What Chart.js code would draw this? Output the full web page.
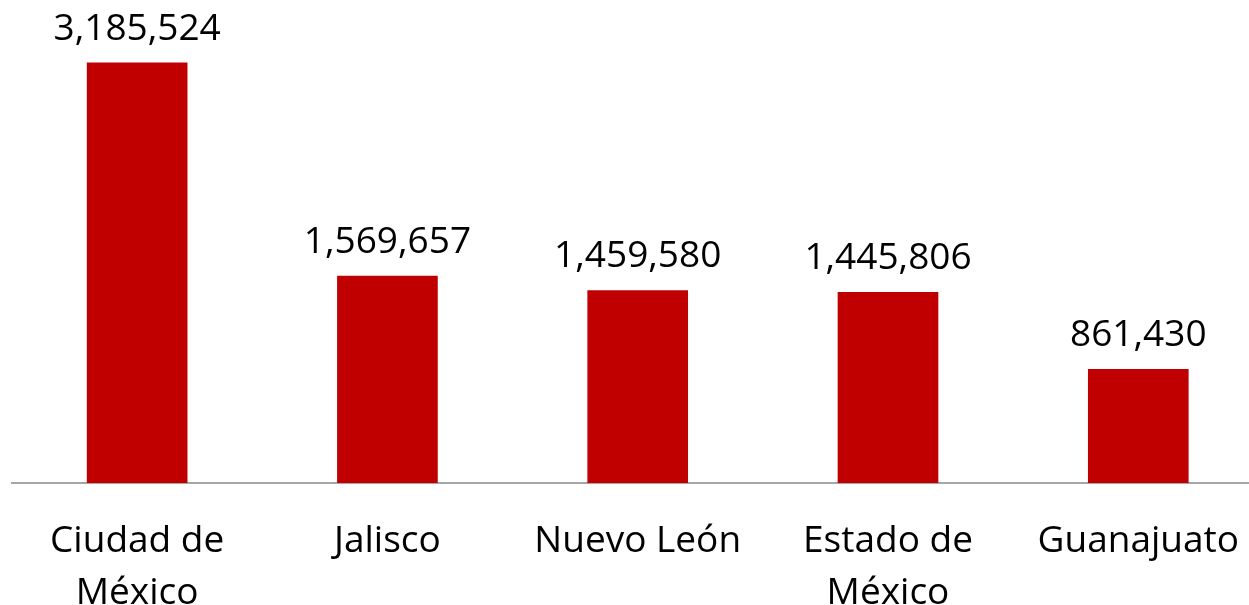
<!DOCTYPE html>
<html>
<head>
<meta charset="utf-8">
<script src="https://cdn.jsdelivr.net/npm/chart.js@4/dist/chart.umd.min.js"></script>
<style>
    html, body { margin: 0; padding: 0; background: #fff; overflow: hidden; }
    #wrap { width: 1249px; height: 605px; overflow: hidden; position: relative; }
</style>
</head>
<body>
<div id="wrap">
    <canvas id="barChart" width="1271" height="656"></canvas>
</div>
<script>
const states = [['Ciudad de', 'México'], 'Jalisco', 'Nuevo León', ['Estado de', 'México'], 'Guanajuato'];
const totals = [3185524, 1569657, 1459580, 1445806, 861430];

const FONT = '"Open Sans", "Noto Sans", sans-serif';

// value labels above each bar
const valueLabels = {
    id: 'valueLabels',
    afterDatasetsDraw(chart) {
        const ctx = chart.ctx;
        const meta = chart.getDatasetMeta(0);
        ctx.save();
        ctx.font = '37px ' + FONT;
        ctx.fillStyle = '#000';
        ctx.textAlign = 'center';
        ctx.textBaseline = 'alphabetic';
        meta.data.forEach((bar, i) => {
            ctx.fillText(totals[i].toLocaleString('en-US'), bar.x, bar.y - 23);
        });
        ctx.restore();
    }
};

document.addEventListener('DOMContentLoaded', function() {
    const ctx = document.getElementById('barChart').getContext('2d');
    new Chart(ctx, {
        type: 'bar',
        data: {
            labels: states,
            datasets: [{
                data: totals,
                backgroundColor: '#C00000',
                borderWidth: 0,
                barThickness: 100
            }]
        },
        options: {
            responsive: false,
            animation: false,
            layout: {
                padding: { left: 12, right: 0, top: 0, bottom: 4 }
            },
            plugins: {
                legend: { display: false },
                tooltip: { enabled: false }
            },
            scales: {
                y: {
                    display: false,
                    min: 0,
                    max: 3663000
                },
                x: {
                    grid: { display: false, drawTicks: false },
                    border: { display: true, color: '#a6a6a6', width: 2 },
                    ticks: {
                        color: '#000',
                        padding: 32,
                        maxRotation: 0,
                        autoSkip: false,
                        font: { family: FONT, size: 37, lineHeight: 1.42 }
                    }
                }
            }
        },
        plugins: [valueLabels]
    });
});
</script>
</body>
</html>
